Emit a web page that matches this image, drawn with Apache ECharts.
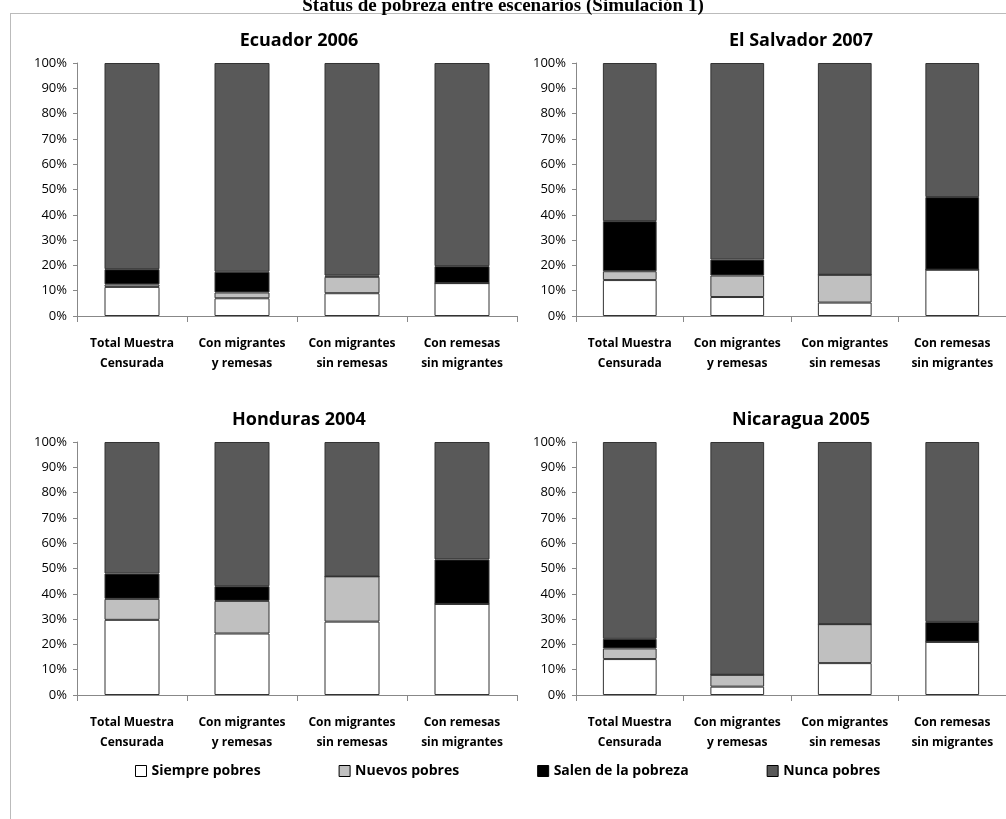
<!DOCTYPE html>
<html>
<head>
<meta charset="utf-8">
<script src="https://cdn.jsdelivr.net/npm/echarts@6/dist/echarts.min.js"></script>
<style>
  body { margin: 0; background: #fff; }
  #main { width: 1006px; height: 819px; }
  #frame { position: absolute; left: 10px; top: 13px; width: 1000px; height: 820px; border: 1px solid #bbb; }
</style>
</head>
<body>
<div id="frame"></div>
<div id="main" style="position:absolute;left:0;top:0"></div>
<script>
var categories = ['Total Muestra\nCensurada', 'Con migrantes\ny remesas', 'Con migrantes\nsin remesas', 'Con remesas\nsin migrantes'];
var panels = ['Ecuador 2006', 'El Salvador 2007', 'Honduras 2004', 'Nicaragua 2005'];
var seriesNames = ['Siempre pobres', 'Nuevos pobres', 'Salen de la pobreza', 'Nunca pobres'];
var colors = ['#ffffff', '#c0c0c0', '#000000', '#595959'];

// percentages per panel, per series, per category
var ecuador = [
    [11.5, 7.0, 9.0, 13.0],
    [1.0, 2.3, 6.5, 0.0],
    [6.0, 8.2, 0.5, 6.7],
    [81.5, 82.5, 84.0, 80.3]
];
var elSalvador = [
    [14.2, 7.5, 5.3, 18.3],
    [3.5, 8.5, 11.0, 0.0],
    [19.8, 6.3, 0.0, 28.7],
    [62.5, 77.7, 83.7, 53.0]
];
var honduras = [
    [29.7, 24.3, 29.0, 36.0],
    [8.3, 12.9, 17.9, 0.0],
    [10.0, 5.8, 0.0, 17.6],
    [52.0, 57.0, 53.1, 46.4]
];
var nicaragua = [
    [14.2, 3.3, 12.6, 21.0],
    [4.2, 4.7, 15.4, 0.0],
    [3.8, 0.0, 0.0, 7.9],
    [77.8, 92.0, 72.0, 71.1]
];
var panelData = [ecuador, elSalvador, honduras, nicaragua];

var gridPos = [
    {left: 77, top: 63},
    {left: 576, top: 63},
    {left: 77, top: 442},
    {left: 576, top: 442}
];
var titleCenters = [294, 796, 294, 796];
var titleTops = [27, 27, 406, 406];

var font = '"Open Sans", "Liberation Sans", sans-serif';
var grids = [], xAxes = [], yAxes = [], series = [], titles = [];
titles.push({
    text: 'Status de pobreza entre escenarios (Simulación 1)',
    left: 'center', top: -8,
    textStyle: {fontFamily: '"Liberation Serif", serif', fontSize: 19, fontWeight: 'bold', color: '#000'}
});
for (var p = 0; p < 4; p++) {
    grids.push({left: gridPos[p].left, top: gridPos[p].top, width: 440, height: 253});
    titles.push({
        text: panels[p], left: titleCenters[p], top: titleTops[p], textAlign: 'center',
        textStyle: {fontFamily: font, fontSize: 18, fontWeight: 'bold', color: '#000'}
    });
    xAxes.push({
        type: 'category', gridIndex: p, data: categories,
        axisLine: {lineStyle: {color: '#888'}},
        axisTick: {show: true, length: 6, lineStyle: {color: '#888'}},
        axisLabel: {interval: 0, margin: 18, fontFamily: font, fontSize: 12, fontWeight: 'bold', color: '#000', lineHeight: 20}
    });
    yAxes.push({
        type: 'value', gridIndex: p, min: 0, max: 100, interval: 10,
        axisLine: {show: true, lineStyle: {color: '#888'}},
        axisTick: {show: true, length: 4, lineStyle: {color: '#888'}},
        splitLine: {show: false},
        axisLabel: {formatter: '{value}%', margin: 10, fontFamily: font, fontSize: 13, color: '#000'}
    });
    for (var s = 0; s < 4; s++) {
        series.push({
            name: seriesNames[s], type: 'bar', stack: 'p' + p,
            xAxisIndex: p, yAxisIndex: p, barWidth: '50%',
            itemStyle: {color: colors[s], borderColor: '#333', borderWidth: 1},
            data: panelData[p][s]
        });
    }
}

var chart = echarts.init(document.getElementById('main'));
chart.setOption({
    animation: false,
    title: titles,
    legend: {
        data: seriesNames, top: 759, left: 130, itemGap: 78,
        itemWidth: 11, itemHeight: 11, icon: 'rect',
        itemStyle: {borderColor: '#000', borderWidth: 1},
        textStyle: {fontFamily: font, fontSize: 14, fontWeight: 'bold', color: '#000'}
    },
    grid: grids,
    xAxis: xAxes,
    yAxis: yAxes,
    series: series
});
</script>
</body>
</html>
